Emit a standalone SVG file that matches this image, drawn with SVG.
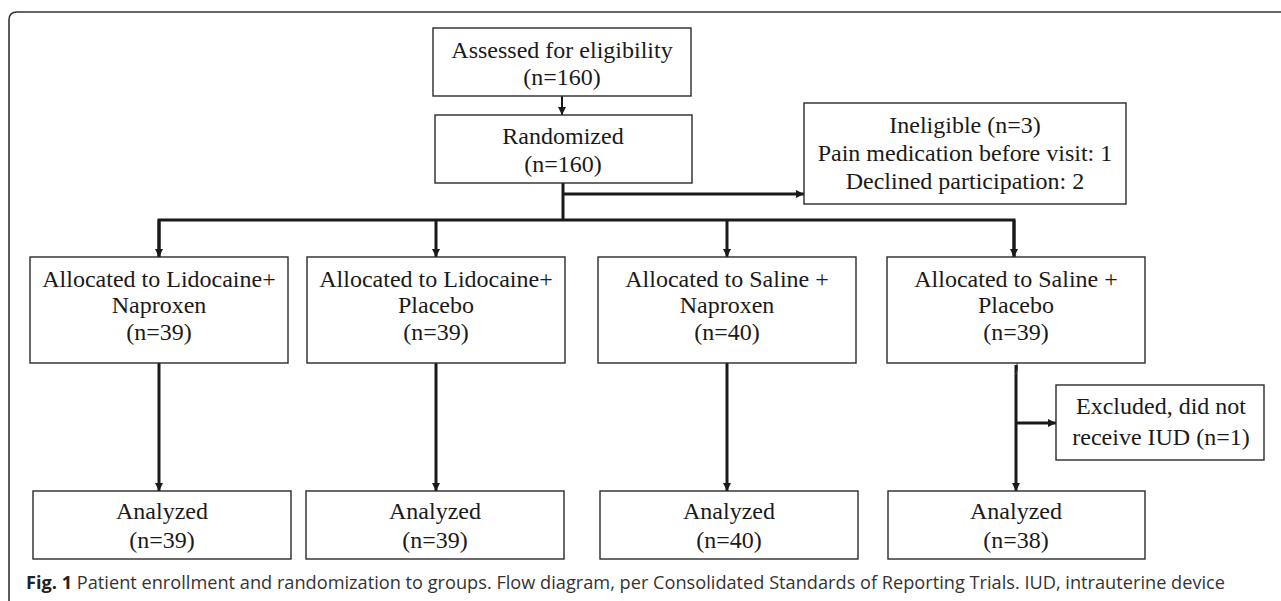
<svg xmlns="http://www.w3.org/2000/svg" width="1281" height="601" viewBox="0 0 1281 601">
<style>
.box{fill:#fff;stroke:#2a2a2a;stroke-width:1.4}
.t{font-family:"Liberation Serif","Times New Roman",serif;font-size:24px;fill:#1a1a1a;text-anchor:middle}
.c{stroke:#1a1a1a;stroke-width:3;fill:none}
.cap{font-family:"Open Sans","Noto Sans","Liberation Sans",sans-serif;font-size:18px;fill:#333}
</style>
<defs>
<marker id="ah" viewBox="0 0 10 10" refX="10" refY="5" markerUnits="userSpaceOnUse" markerWidth="9" markerHeight="8" orient="auto">
<path d="M0,0 L10,5 L0,10 z" fill="#1a1a1a"/>
</marker>
</defs>
<rect width="1281" height="601" fill="#fff"/>
<path d="M9,601 V20 Q9,12 17,12 H1281" fill="none" stroke="#333" stroke-width="1.6"/>

<g id="connectors">
<line x1="562" y1="96" x2="562" y2="115" stroke="#1a1a1a" stroke-width="2" marker-end="url(#ah)"/>
<polyline class="c" points="563,183 563,220"/>
<line class="c" x1="564" y1="194" x2="804" y2="194" marker-end="url(#ah)"/>
<polyline class="c" points="159,257 159,220 1014,220 1014,257"/>
<line class="c" x1="159" y1="220" x2="159" y2="257" marker-end="url(#ah)"/>
<line class="c" x1="436" y1="220" x2="436" y2="257" marker-end="url(#ah)"/>
<line class="c" x1="727" y1="220" x2="727" y2="257" marker-end="url(#ah)"/>
<line class="c" x1="1014" y1="220" x2="1014" y2="257" marker-end="url(#ah)"/>
<line class="c" x1="159" y1="363" x2="159" y2="491" marker-end="url(#ah)"/>
<line class="c" x1="436" y1="363" x2="436" y2="491" marker-end="url(#ah)"/>
<line class="c" x1="727" y1="363" x2="727" y2="491" marker-end="url(#ah)"/>
<line class="c" x1="1016" y1="365" x2="1016" y2="491" marker-end="url(#ah)"/>
<line class="c" x1="1016" y1="423" x2="1056" y2="423" marker-end="url(#ah)"/>
<path d="M1013,357 Q1021,365 1015,376" fill="none" stroke="#333" stroke-width="1"/>
</g>

<g id="n_assessed">
<rect class="box" x="433" y="28" width="258" height="68"/>
<text class="t" x="562" y="58">Assessed for eligibility</text>
<text class="t" x="562" y="85">(n=160)</text>
</g>
<g id="n_randomized">
<rect class="box" x="435" y="115" width="257" height="68"/>
<text class="t" x="563" y="144">Randomized</text>
<text class="t" x="563" y="172">(n=160)</text>
</g>
<g id="n_ineligible">
<rect class="box" x="804" y="103" width="322" height="101"/>
<text class="t" x="965" y="133">Ineligible (n=3)</text>
<text class="t" x="965" y="161">Pain medication before visit: 1</text>
<text class="t" x="965" y="189">Declined participation: 2</text>
</g>

<g id="n_alloc1">
<rect class="box" x="30" y="257" width="258" height="106"/>
<text class="t" x="159" y="287">Allocated to Lidocaine+</text>
<text class="t" x="159" y="313">Naproxen</text>
<text class="t" x="159" y="340">(n=39)</text>
</g>
<g id="n_alloc2">
<rect class="box" x="307" y="257" width="258" height="106"/>
<text class="t" x="436" y="287">Allocated to Lidocaine+</text>
<text class="t" x="436" y="313">Placebo</text>
<text class="t" x="436" y="340">(n=39)</text>
</g>
<g id="n_alloc3">
<rect class="box" x="598" y="257" width="258" height="106"/>
<text class="t" x="727" y="287">Allocated to Saline +</text>
<text class="t" x="727" y="313">Naproxen</text>
<text class="t" x="727" y="340">(n=40)</text>
</g>
<g id="n_alloc4">
<rect class="box" x="887" y="257" width="258" height="106"/>
<text class="t" x="1016" y="287">Allocated to Saline +</text>
<text class="t" x="1016" y="313">Placebo</text>
<text class="t" x="1016" y="340">(n=39)</text>
</g>

<g id="n_excluded">
<rect class="box" x="1056" y="385" width="208" height="75"/>
<text class="t" x="1161" y="414">Excluded, did not</text>
<text class="t" x="1161" y="445">receive IUD (n=1)</text>
</g>

<g id="n_anal1">
<rect class="box" x="33" y="491" width="258" height="68"/>
<text class="t" x="162" y="519">Analyzed</text>
<text class="t" x="162" y="548">(n=39)</text>
</g>
<g id="n_anal2">
<rect class="box" x="306" y="491" width="258" height="68"/>
<text class="t" x="435" y="519">Analyzed</text>
<text class="t" x="435" y="548">(n=39)</text>
</g>
<g id="n_anal3">
<rect class="box" x="600" y="491" width="258" height="68"/>
<text class="t" x="729" y="519">Analyzed</text>
<text class="t" x="729" y="548">(n=40)</text>
</g>
<g id="n_anal4">
<rect class="box" x="888" y="491" width="257" height="68"/>
<text class="t" x="1016" y="519">Analyzed</text>
<text class="t" x="1016" y="548">(n=38)</text>
</g>

<text class="cap" x="26" y="589" textLength="1199" lengthAdjust="spacingAndGlyphs"><tspan font-weight="bold" fill="#222">Fig. 1</tspan> Patient enrollment and randomization to groups. Flow diagram, per Consolidated Standards of Reporting Trials. IUD, intrauterine device</text>
</svg>
